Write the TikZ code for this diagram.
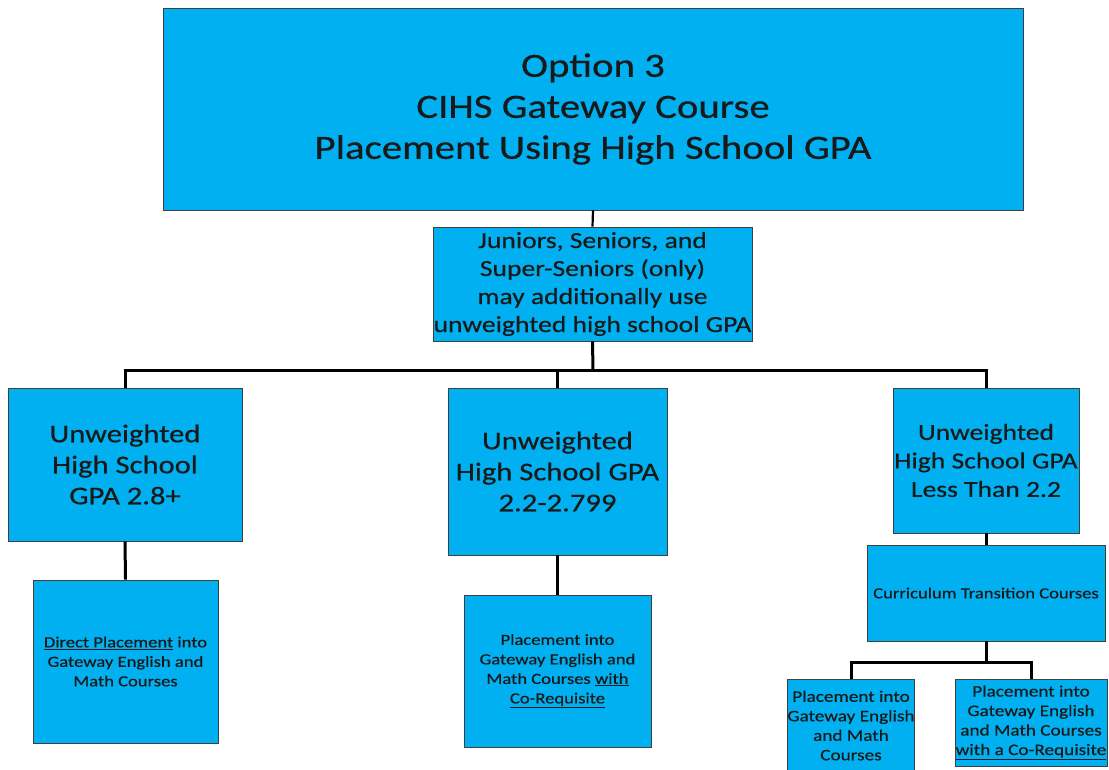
\documentclass[tikz,border=0pt]{standalone}
\usepackage{fontspec}
\setmainfont{Carlito}[FakeStretch=1.2,FakeBold=0.5]
\definecolor{boxblue}{HTML}{00B0F0}
\begin{document}
\begin{tikzpicture}[x=1pt,y=-1pt,
  box/.style={draw=black!75, line width=0.9pt, fill=boxblue, align=center, inner sep=0pt, text=black!90},
  conn/.style={line width=3pt, black}]
\useasboundingbox (0,0) rectangle (1109,770);
\node[box, minimum width=860pt, minimum height=202pt, font=\fontsize{34}{41}\selectfont] (top) at (593,109)
  {Option 3\\CIHS Gateway Course\\Placement Using High School GPA};
\node[box, minimum width=319pt, minimum height=114pt, font=\fontsize{23}{28}\selectfont] (jun) at (592.5,284)
  {Juniors, Seniors, and\\Super-Seniors (only)\\may additionally use\\unweighted high school GPA};
\node[box, minimum width=234pt, minimum height=153pt, font=\fontsize{25.5}{31}\selectfont] (A) at (125,464.5)
  {Unweighted\\High School\\GPA 2.8+};
\node[box, minimum width=219pt, minimum height=167pt, font=\fontsize{25.5}{31}\selectfont] (B) at (557.5,471.5)
  {Unweighted\\High School GPA\\2.2-2.799};
\node[box, minimum width=186pt, minimum height=145pt, font=\fontsize{23}{28.5}\selectfont] (C) at (986,460.5)
  {Unweighted\\High School GPA\\Less Than 2.2};
\node[box, minimum width=185pt, minimum height=163pt, font=\fontsize{15.5}{19.5}\selectfont] (D) at (125.5,661.5)
  {\underline{Direct Placement} into\\Gateway English and\\Math Courses};
\node[box, minimum width=187pt, minimum height=152pt, font=\fontsize{15.5}{19.5}\selectfont] (E) at (557.5,671)
  {Placement into\\Gateway English and\\Math Courses \underline{with}\\\underline{Co-Requisite}};
\node[box, minimum width=238pt, minimum height=96pt, font=\fontsize{15.5}{19.5}\selectfont] (F) at (986,593)
  {Curriculum Transition Courses};
\node[box, minimum width=126pt, minimum height=93pt, font=\fontsize{16}{19.5}\selectfont] (G) at (851,725.5)
  {Placement into\\Gateway English\\and Math\\Courses};
\node[box, minimum width=152pt, minimum height=87pt, font=\fontsize{16}{19.5}\selectfont] (H) at (1031,722.5)
  {Placement into\\Gateway English\\and Math Courses\\\underline{with a Co-Requisite}};
\coordinate (bar) at (593,370);
\coordinate (bar2) at (986,662);
\draw[conn, line width=2.2pt] (top.south) -- (jun.north);
\draw[conn] (jun.south) -- (bar);
\draw[conn] (A.north) |- (bar) -| (C.north);
\draw[conn] (B.north) -- (B.north |- bar);
\draw[conn] (A.south) -- (D.north);
\draw[conn] (B.south) -- (E.north);
\draw[conn] (C.south) -- (F.north);
\draw[conn] (F.south) -- (bar2);
\draw[conn] (G.north) |- (bar2) -| (H.north);
\end{tikzpicture}
\end{document}
